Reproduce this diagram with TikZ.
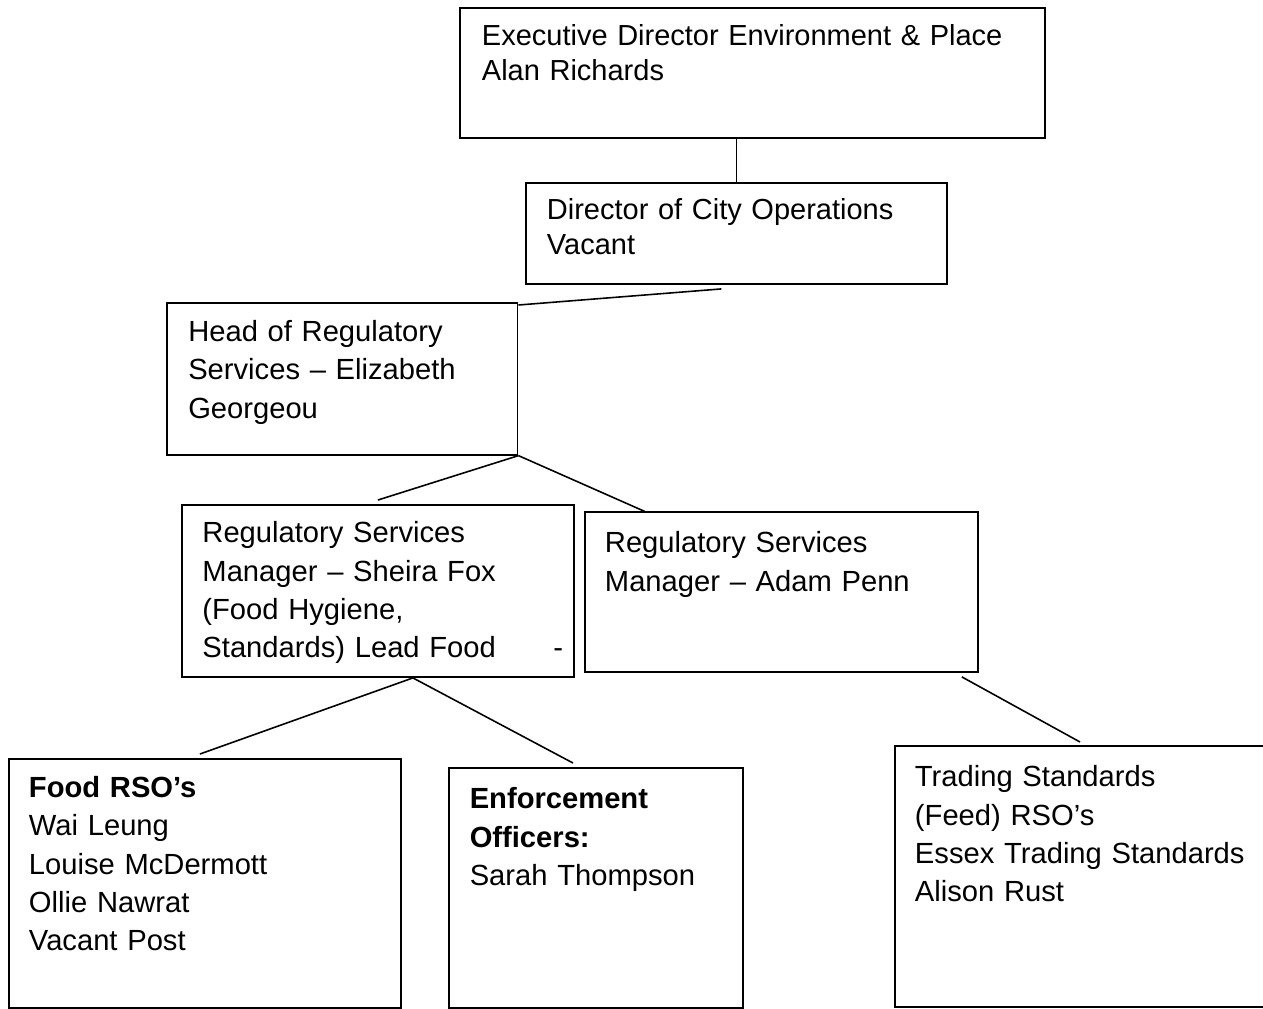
\documentclass[tikz,border=0pt]{standalone}
\usepackage{fontspec}
\setmainfont{Liberation Sans}
\usepackage{tikz}
\usetikzlibrary{positioning,calc}

\tikzset{
	orgbox/.style={draw=black,line width=1.1pt,anchor=north west,align=left,inner ysep=0pt,font=\fontsize{16.6pt}{21.8pt}\selectfont},
	tightbox/.style={orgbox,font=\fontsize{16.5pt}{19.9pt}\selectfont},
	link/.style={draw=black,line width=0.9pt}
}

\begin{document}
\begin{tikzpicture}[x=0.02cm,y=-0.02cm]
		\useasboundingbox (0,0) rectangle (1263,1008);
		
		\node[tightbox,text width=10.82cm,inner xsep=0.44cm,text height=0.76cm,text depth=1.84cm] (exec) at (459,7) {Executive Director Environment \& Place\\Alan Richards};
		
		\node[tightbox,text width=7.58cm,inner xsep=0.42cm,text height=0.726cm,text depth=1.294cm] (dir) at (525,182) {Director of City Operations\\Vacant};
		
		\node[orgbox,text width=6.16cm,inner xsep=0.426cm,text height=0.774cm,text depth=2.26cm] (head) at (166,302) {Head of Regulatory\\Services -- Elizabeth\\Georgeou};
		
		\node[orgbox,text width=7.02cm,inner xsep=0.41cm,text height=0.76cm,text depth=2.68cm] (sheira) at (181,504) {Regulatory Services\\Manager -- Sheira Fox\\(Food Hygiene,\\Standards) Lead Food\hfill\rlap{-}};
		
		\node[orgbox,text width=7.06cm,inner xsep=0.4cm,text height=0.82cm,text depth=2.38cm] (adam) at (584,511) {Regulatory Services\\Manager -- Adam Penn};
		
		\node[orgbox,text width=7.04cm,inner xsep=0.4cm,text height=0.774cm,text depth=4.206cm] (food) at (8,758) {\textbf{Food RSO’s}\\Wai Leung\\Louise McDermott\\Ollie Nawrat\\Vacant Post};
		
		\node[orgbox,text width=5.05cm,inner xsep=0.416cm,text height=0.82cm,text depth=3.98cm] (enf) at (448,767) {\textbf{Enforcement}\\\textbf{Officers:}\\Sarah Thompson};
		
		\node[orgbox,text width=7.5cm,inner xsep=0.4cm,text height=0.82cm,text depth=4.4cm] (trading) at (894,745) {Trading Standards\\(Feed) RSO’s\\Essex Trading Standards\\Alison Rust};
		
		\draw[link] (dir.north)--(dir.north |- exec.south);
		\draw[link] ($(dir.south)+(-15,4)$)--($(head.north east)+(0,3)$);
		\draw[link] (head.south east)--($(sheira.north)+(0,-4)$);
		\draw[link] (head.south east)--($(adam.north west)+(62,1)$);
		\draw[link] ($(sheira.south)+(35,0)$)--($(food.north)+(-5,-4)$);
		\draw[link] ($(sheira.south)+(35,0)$)--($(enf.north)+(-23,-4)$);
		\draw[link] ($(adam.south east)+(-17,4)$)--($(trading.north west)+(186,-3)$);
	\end{tikzpicture}
\end{document}
